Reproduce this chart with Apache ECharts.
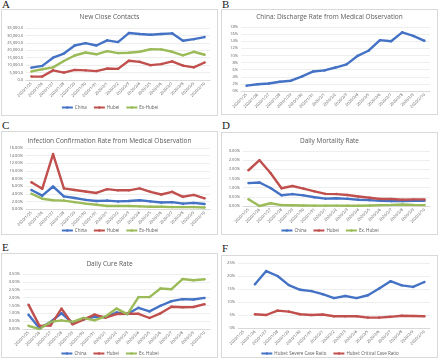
<!DOCTYPE html>
<html>
<head>
<meta charset="utf-8">
<script src="https://cdn.jsdelivr.net/npm/echarts@6/dist/echarts.min.js"></script>
<style>
  html, body { margin: 0; padding: 0; background: #fff; }
  body { position: relative; width: 440px; height: 362px; overflow: hidden; }
  .box { position: absolute; border: 1px solid #d9d9d9; box-sizing: border-box; }
  .tag { position: absolute; font-family: "Liberation Serif", "DejaVu Serif", serif; font-size: 11px; line-height: 11px; color: #222; }
</style>
</head>
<body>
<span class="tag" style="left:2px;top:-1px">A</span>
<span class="tag" style="left:222px;top:-1px">B</span>
<span class="tag" style="left:2px;top:120px">C</span>
<span class="tag" style="left:222px;top:120px">D</span>
<span class="tag" style="left:2px;top:242px">E</span>
<span class="tag" style="left:222px;top:243px">F</span>
<div id="pa" class="box" style="left:1px;top:9px;width:217px;height:107px"></div>
<div id="pb" class="box" style="left:221px;top:9px;width:217px;height:106px"></div>
<div id="pc" class="box" style="left:1px;top:131px;width:217px;height:104px"></div>
<div id="pd" class="box" style="left:221px;top:132px;width:217px;height:103px"></div>
<div id="pe" class="box" style="left:1px;top:253px;width:217px;height:105px"></div>
<div id="pf" class="box" style="left:221px;top:255px;width:217px;height:103px"></div>
<script>
var dates = ['2020/1/25', '2020/1/26', '2020/1/27', '2020/1/28', '2020/1/29', '2020/1/30', '2020/1/31',
	'2020/2/1', '2020/2/2', '2020/2/3', '2020/2/4', '2020/2/5', '2020/2/6', '2020/2/7', '2020/2/8', '2020/2/9', '2020/2/10'];

// A: new close contacts
var contactsChina = [8300, 9500, 15000, 17800, 23200, 24800, 23200, 26700, 25500, 31600, 31000, 30500, 31000, 31400, 26400, 27500, 28900];
var contactsHubei = [2300, 2300, 6500, 5000, 6800, 6500, 6000, 7700, 7500, 13000, 12200, 10000, 10700, 12500, 9700, 8500, 11800];
var contactsExHubei = [5800, 7200, 8500, 12800, 16500, 18500, 17300, 19400, 18100, 18300, 19000, 20700, 20600, 19000, 16600, 19000, 17000];

// B: discharge rate (%)
var dischargeChina = [1.5, 1.9, 2.1, 2.6, 2.9, 4.1, 5.5, 5.8, 6.6, 7.5, 9.9, 11.4, 14.3, 14.0, 16.5, 15.5, 14.1];

// C: infection confirmation rate (%)
var confirmChina = [5.0, 3.5, 5.9, 3.3, 2.9, 2.4, 2.1, 2.2, 2.0, 2.1, 2.3, 2.0, 1.7, 1.8, 1.4, 1.6, 1.3];
var confirmHubei = [7.0, 5.3, 14.4, 5.4, 5.0, 4.6, 4.2, 5.2, 4.9, 4.9, 5.4, 4.5, 3.8, 4.5, 3.2, 3.7, 2.8];
var confirmExHubei = [4.0, 2.7, 2.3, 2.2, 1.8, 1.4, 1.1, 0.8, 0.8, 0.8, 0.7, 0.6, 0.6, 0.5, 0.5, 0.5, 0.4];

// D: daily mortality rate (%)
var mortChina = [1.25, 1.28, 0.98, 0.59, 0.65, 0.58, 0.48, 0.40, 0.42, 0.39, 0.34, 0.32, 0.28, 0.27, 0.27, 0.28, 0.28];
var mortHubei = [1.95, 2.50, 1.80, 0.97, 1.09, 0.95, 0.80, 0.66, 0.65, 0.60, 0.52, 0.45, 0.38, 0.38, 0.34, 0.36, 0.36];
var mortExHubei = [0.37, 0.0, 0.15, 0.05, 0.04, 0.03, 0.02, 0.02, 0.02, 0.01, 0.01, 0.03, 0.05, 0.06, 0.08, 0.06, 0.05];

// E: daily cure rate (%)
var cureChina = [0.90, 0.05, 0.45, 1.00, 0.40, 0.62, 0.78, 0.75, 1.05, 0.95, 1.35, 1.12, 1.48, 1.77, 1.90, 1.88, 1.98];
var cureHubei = [1.55, 0.20, 0.22, 1.30, 0.30, 0.60, 0.92, 0.72, 0.95, 0.97, 0.97, 0.70, 1.00, 1.42, 1.38, 1.40, 1.58];
var cureExHubei = [0.20, 0.0, 0.45, 0.55, 0.45, 0.70, 0.55, 0.80, 1.30, 0.95, 2.03, 2.03, 2.58, 2.53, 3.18, 3.10, 3.17];

// F: Hubei severe / critical case ratio (%)
var severeHubei = [null, 16.8, 21.9, 20.0, 16.5, 14.7, 14.2, 13.0, 11.5, 12.3, 11.5, 12.6, 15.2, 18.0, 16.4, 15.8, 17.7];
var criticalHubei = [null, 5.3, 5.0, 6.7, 6.3, 5.3, 5.0, 5.2, 4.5, 4.5, 4.5, 4.0, 4.0, 4.3, 4.7, 4.6, 4.5];

var BLUE = '#4472C4', RED = '#C0504D', GREEN = '#9BBB59';
var FONT = '"Open Sans", "Liberation Sans", sans-serif';

function line(name, data, color) {
	return {
		type: 'line', name: name, data: data,
		symbol: 'circle', symbolSize: 2.5,
		itemStyle: { color: color },
		lineStyle: { color: color, width: 2.4 },
		connectNulls: false, animation: false
	};
}

function panel(id, cfg) {
	var chart = echarts.init(document.getElementById(id));
	var option = {
		animation: false,
		textStyle: { fontFamily: FONT },
		title: {
			show: !!cfg.title, text: cfg.title || '', left: 'center', top: cfg.titleTop, padding: 0,
			textStyle: { fontSize: 6.5, fontWeight: 'normal', color: '#595959', fontFamily: FONT }
		},
		grid: { left: cfg.left, right: 7, top: cfg.top, height: cfg.height },
		legend: {
			show: !!cfg.legend, bottom: cfg.legendBottom, left: 'center', padding: 0,
			itemWidth: 11, itemHeight: 3, itemGap: 6,
			textStyle: { fontSize: 4.5, color: '#595959', padding: [0, 0, 0, -3] },
			data: cfg.legend || []
		},
		xAxis: {
			type: 'category', data: dates, boundaryGap: true,
			axisLine: { lineStyle: { color: '#d9d9d9' } },
			axisTick: { show: false },
			axisLabel: { rotate: 45, fontSize: 4, color: '#595959', margin: 3, interval: 0 }
		},
		yAxis: {
			type: 'value', min: cfg.min || 0, max: cfg.max, interval: cfg.step,
			axisLine: { show: false }, axisTick: { show: false },
			splitLine: { lineStyle: { color: '#e3e3e3', width: 0.6 } },
			axisLabel: { fontSize: 4, color: '#595959', margin: 3, formatter: cfg.fmt }
		},
		series: cfg.series
	};
	chart.setOption(option);
	return chart;
}

function pct(d) {
	return function(v) { return v.toFixed(d) + '%'; };
}

panel('pa', {
	title: 'New Close Contacts', titleTop: 4, left: 24, top: 18, height: 52,
	max: 35000, step: 5000,
	fmt: function(v) { return v.toLocaleString('en-US') + '.0'; },
	legend: ['China', 'Hubei', 'Ex-Hubei'], legendBottom: 5,
	series: [line('China', contactsChina, BLUE), line('Hubei', contactsHubei, RED), line('Ex-Hubei', contactsExHubei, GREEN)]
});

panel('pb', {
	title: 'China: Discharge Rate from Medical Observation', titleTop: 4, left: 19, top: 17, height: 64,
	max: 18, step: 2, fmt: pct(0),
	series: [line('China', dischargeChina, BLUE)]
});

panel('pc', {
	title: 'Infection Confirmation Rate from Medical Observation', titleTop: 6, left: 24, top: 16, height: 61,
	max: 16, step: 2, fmt: pct(2),
	legend: ['China', 'Hubei', 'Ex-Hubei'], legendBottom: 1,
	series: [line('China', confirmChina, BLUE), line('Hubei', confirmHubei, RED), line('Ex-Hubei', confirmExHubei, GREEN)]
});

panel('pd', {
	title: 'Daily Mortality Rate', titleTop: 5, left: 21, top: 18, height: 55,
	max: 3, step: 0.5, fmt: pct(2),
	legend: ['China', 'Hubei', 'Ex. Hubei'], legendBottom: 1,
	series: [line('China', mortChina, BLUE), line('Hubei', mortHubei, RED), line('Ex. Hubei', mortExHubei, GREEN)]
});

panel('pe', {
	title: 'Daily Cure Rate', titleTop: 7, left: 21, top: 20, height: 55,
	max: 3.5, step: 0.5, fmt: pct(2),
	legend: ['China', 'Hubei', 'Ex. Hubei'], legendBottom: 1,
	series: [line('China', cureChina, BLUE), line('Hubei', cureHubei, RED), line('Ex. Hubei', cureExHubei, GREEN)]
});

panel('pf', {
	left: 16, top: 7, height: 65,
	max: 25, step: 5, fmt: pct(0),
	legend: ['Hubei: Severe Case Ratio', 'Hubei: Critical Case Ratio'], legendBottom: 1,
	series: [line('Hubei: Severe Case Ratio', severeHubei, BLUE), line('Hubei: Critical Case Ratio', criticalHubei, RED)]
});
</script>
</body>
</html>
